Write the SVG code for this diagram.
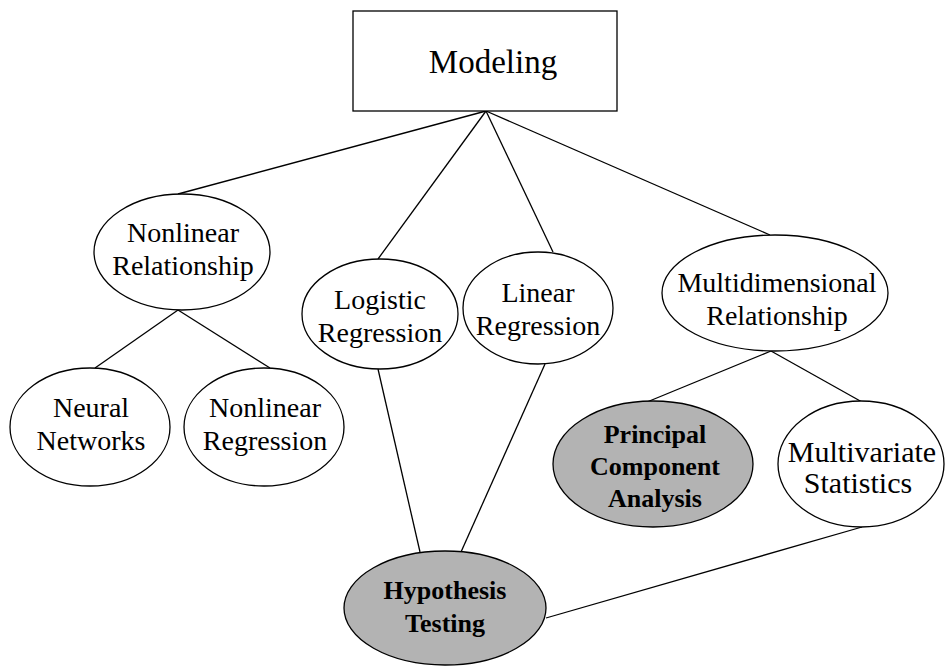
<svg xmlns="http://www.w3.org/2000/svg" width="945" height="666" viewBox="0 0 945 666">
  <style>
    .box { fill: #ffffff; stroke: #000000; stroke-width: 1.3; }
    .node { fill: #ffffff; stroke: #000000; stroke-width: 1.3; }
    .hl { fill: #b3b3b3; stroke: #000000; stroke-width: 1.3; }
    .edge { stroke: #000000; stroke-width: 1.3; fill: none; }
    .lbl { font-size: 28px; fill: #000000; text-anchor: middle; }
    .title { font-size: 33px; }
    .bold { font-weight: bold; font-size: 26px; }
    .big { font-size: 30px; }
  </style>
  <rect width="945" height="666" fill="#ffffff"/>

  <!-- connectors -->
  <g id="connectors">
    <line class="edge" x1="486" y1="111" x2="178" y2="194"/>
    <line class="edge" x1="486" y1="111" x2="378" y2="259"/>
    <line class="edge" x1="486" y1="111" x2="553" y2="252"/>
    <line class="edge" x1="486" y1="111" x2="770" y2="235"/>
    <line class="edge" x1="178" y1="310" x2="95" y2="368"/>
    <line class="edge" x1="178" y1="310" x2="270" y2="368"/>
    <line class="edge" x1="771" y1="351" x2="647" y2="402"/>
    <line class="edge" x1="771" y1="351" x2="862" y2="402"/>
    <line class="edge" x1="378" y1="369" x2="420" y2="552"/>
    <line class="edge" x1="545" y1="364" x2="461" y2="552"/>
    <line class="edge" x1="862" y1="527" x2="546" y2="618"/>
  </g>

  <g class="lbl" font-family="'Liberation Serif', Tinos, 'Times New Roman', Times, serif">
    <g id="modeling">
      <rect class="box" x="353" y="11" width="264" height="100"/>
      <text class="title" x="493" y="73">Modeling</text>
    </g>

    <g id="nonlinear-relationship">
      <ellipse class="node" cx="182" cy="252" rx="88" ry="58"/>
      <text x="183" y="242">Nonlinear</text>
      <text x="183" y="275">Relationship</text>
    </g>

    <g id="logistic-regression">
      <ellipse class="node" cx="380" cy="314" rx="78" ry="55"/>
      <text x="380" y="309">Logistic</text>
      <text x="380" y="342">Regression</text>
    </g>

    <g id="linear-regression">
      <ellipse class="node" cx="538" cy="308" rx="75" ry="56"/>
      <text x="538" y="302">Linear</text>
      <text x="538" y="335">Regression</text>
    </g>

    <g id="multidimensional-relationship">
      <ellipse class="node" cx="775" cy="293" rx="113" ry="58"/>
      <text x="777" y="292">Multidimensional</text>
      <text x="777" y="325">Relationship</text>
    </g>

    <g id="neural-networks">
      <ellipse class="node" cx="90" cy="427" rx="80" ry="59"/>
      <text x="91" y="417">Neural</text>
      <text x="91" y="450">Networks</text>
    </g>

    <g id="nonlinear-regression">
      <ellipse class="node" cx="264" cy="427" rx="80" ry="59"/>
      <text x="265" y="417">Nonlinear</text>
      <text x="265" y="450">Regression</text>
    </g>

    <g id="principal-component-analysis">
      <ellipse class="hl" cx="653" cy="464" rx="100" ry="63"/>
      <text class="bold" x="655" y="443">Principal</text>
      <text class="bold" x="655" y="475">Component</text>
      <text class="bold" x="655" y="507">Analysis</text>
    </g>

    <g id="multivariate-statistics">
      <ellipse class="node" cx="861" cy="464" rx="83" ry="63"/>
      <text class="big" x="862" y="462">Multivariate</text>
      <text class="big" x="858" y="493">Statistics</text>
    </g>

    <g id="hypothesis-testing">
      <ellipse class="hl" cx="445" cy="608" rx="101" ry="57"/>
      <text class="bold" x="445" y="599" font-size="27">Hypothesis</text>
      <text class="bold" x="445" y="632" font-size="27">Testing</text>
    </g>
  </g>
</svg>
